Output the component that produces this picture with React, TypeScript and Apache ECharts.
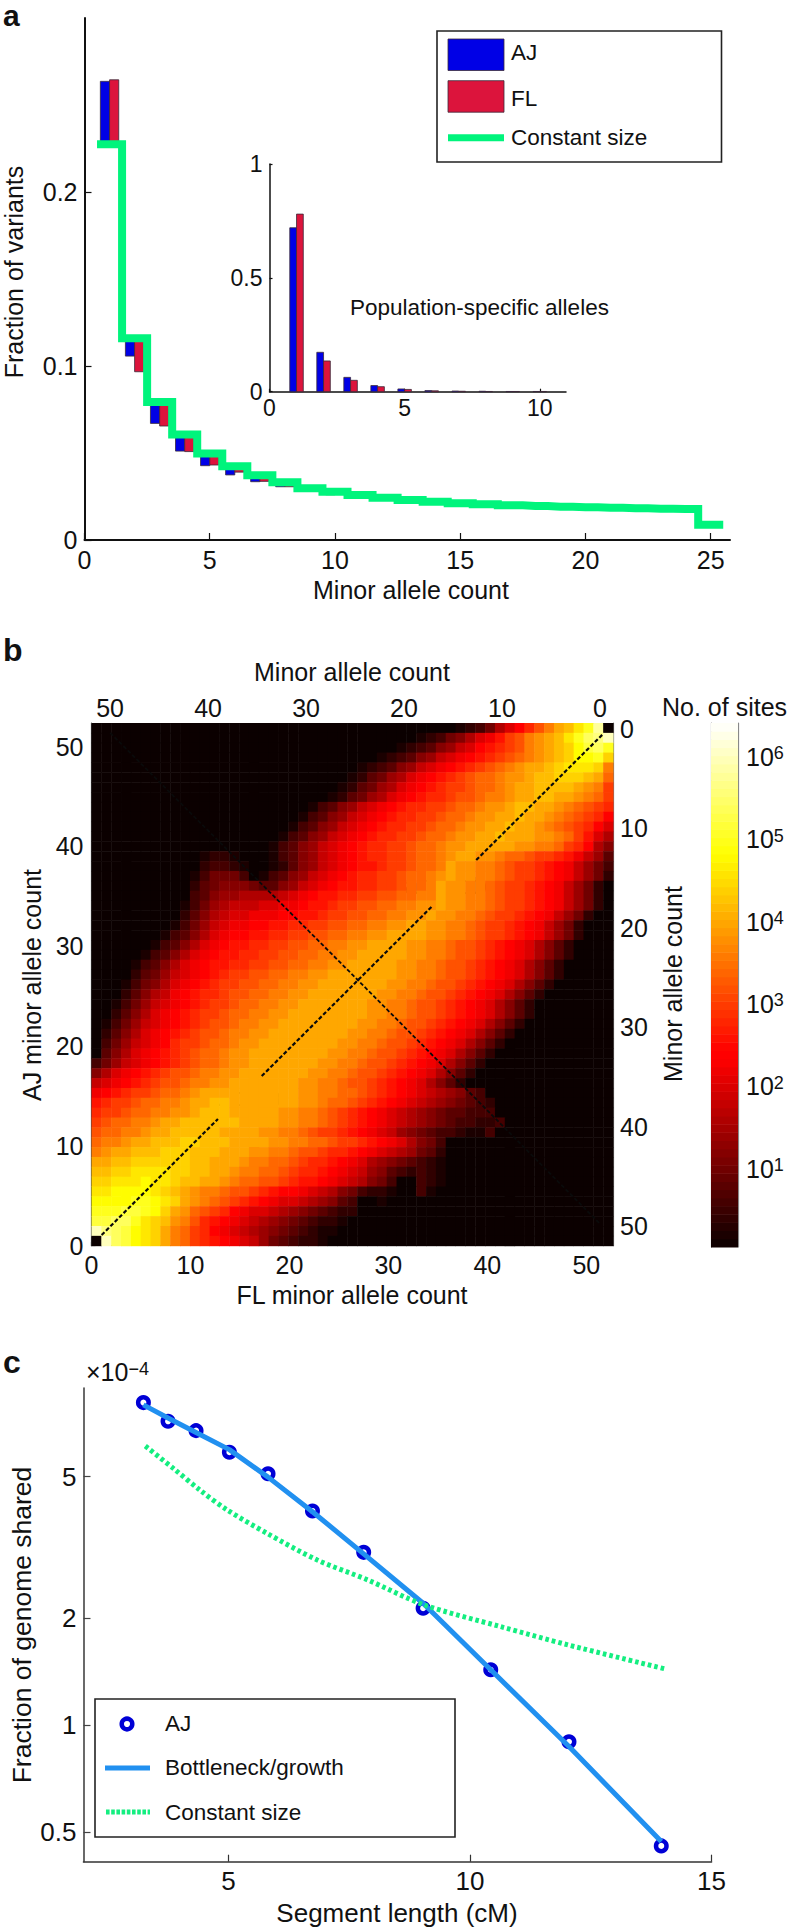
import React, { useEffect, useRef } from "react";
import * as echarts from "echarts";

const FONT = '"Liberation Sans", Arial, sans-serif';

// Panel a
const alleleCounts = [1, 2, 3, 4, 5, 6, 7, 8, 9, 10, 11, 12, 13, 14, 15, 16, 17, 18, 19, 20, 21, 22, 23, 24, 25];
const constantSize = [0.2275, 0.116, 0.0793, 0.0607, 0.0497, 0.0424, 0.0372, 0.0332, 0.0298, 0.0278, 0.0259, 0.0243, 0.023, 0.022, 0.0211, 0.0205, 0.0199, 0.0195, 0.0191, 0.0188, 0.0185, 0.0182, 0.018, 0.0178, 0.0088];
const ajFraction = [0.2636, 0.1057, 0.067, 0.0511, 0.0427, 0.0374, 0.0335, 0.0306, 0.028, 0.026, 0.0245, 0.023, 0.0218, 0.021, 0.0203, 0.0197, 0.0192, 0.0188, 0.0184, 0.0181, 0.0179, 0.0194, 0.0175, 0.0172, 0.0085];
const flFraction = [0.2645, 0.0967, 0.0655, 0.0508, 0.0431, 0.039, 0.0337, 0.0306, 0.0282, 0.0262, 0.0246, 0.0231, 0.0219, 0.0211, 0.0204, 0.0198, 0.0193, 0.0189, 0.0185, 0.0182, 0.018, 0.0192, 0.0176, 0.0173, 0.0086];

// Panel a inset
const insetCounts = [1, 2, 3, 4, 5, 6, 7, 8, 9, 10];
const insetAJ = [0.72, 0.173, 0.063, 0.027, 0.012, 0.005, 0.003, 0.002, 0.001, 0.001];
const insetFL = [0.78, 0.135, 0.05, 0.022, 0.01, 0.004, 0.002, 0.001, 0.001, 0.001];

// Panel b: one entry per row of the matrix, AJ count 52 (top) to 0 (bottom):
// first non-black FL column, then one base-32 digit per cell (digit x 0.2 = log10 of the number of sites).
const heatRows: [number, string][] = [
  [37, "12358acegiklnpt0"],
  [33, "123568abdfgijklnprsu"],
  [31, "1234679acdefgijklmoqrp"],
  [29, "1234679abcdefghijklmoopm"],
  [27, "1234679abcdefghijkklmnnnmi"],
  [26, "124578abcdefghhijjkllmmmlkh"],
  [25, "124578abcdeffghhijkkllllkjif"],
  [24, "124578abcdeefgghiijkkllkkjihf"],
  [22, "134679abcdeeffghhijjkllkkjihgfe"],
  [21, "134679abcdeeffghhijjkklkkjihgfec"],
  [20, "134679abcdeeffghhijjkklkkjihgfeca"],
  [19, "134679abcdeeffghhijjkklkkkjjihfda8"],
  [18, "134679abcdeeffghhijjkkkkkjjiihfec86"],
  [11, "1221000134679abcdeeffghhijkkjjihhgffedb974"],
  [11, "2332100124679abcddeffghhikjjiihgffedcb9753"],
  [10, "1355530134679abcdeeffghhijkjjiihgffedcb9752"],
  [10, "245666544679abcddeeffghhikjjiihgffedcb97520"],
  [10, "3467788889abcddeeffgghhiikjjiihgffedcb9752"],
  [9, "13578999aabbcddeffgghhiijjkjjiihgffedcb9752"],
  [9, "24689aabbbccddeffgghhiijjkjjiihgffedcb9752"],
  [8, "13579abbccddeeffgghhiijjkkjjiihgffedcb9752"],
  [7, "13468abccddeeffgghhiijjkkkkjjiihgffedcb9752"],
  [6, "13468abcddeeffgghhiijjkkkkjjiihggfedcba8642"],
  [5, "13468abcddeeffgghhiijjkkkkkjjiihggfedcba8642"],
  [4, "13468abcddeeffgghhiijjkkkkkjjiihggfedcba8642"],
  [4, "24579abcdeffgghhiijjkkkkkkkjjiihggfedcba8642"],
  [3, "13568abcdeffgghhiijjkkkkkkkjjiihggfedcba8642"],
  [3, "24689bcdeefgghhiijjkkkkkkkjjiihggfedcba8642"],
  [2, "13579abcdeffghhiijjkkkkkkkjjiihggfedcba8642"],
  [2, "2468abcdeffghhiijjkkkkkkkkjjiihggfedcba8642"],
  [1, "13579abcdefgghiijjkkkkkkkkjjiihggfedcba8642"],
  [1, "2468abcdefgghiijjkkkkkkkkjjiihggfedcba8642"],
  [1, "3579abceffghhijjkkkkkkkkjjiihggfedcba8642"],
  [1, "468abcdefghhijjkkkkkkkkjjiihggfedcba8642"],
  [0, "3579abcdefghhijjkkkkkkkjjiihggfedcba8642"],
  [0, "68abcdefgghiijjkkkkkkkjjiihggfedcba8642"],
  [0, "9abcdefgghiijjkkkkkkkjjiihggfedcba8642"],
  [0, "bcdeffghhijkkkkkkkkkkjjiihhgfedcba987643"],
  [0, "deffghhiijkkllkkkkkkkjjihhgfedcba98765432"],
  [0, "effghhiijjklllkkkkkjjiihgfedcba9876544333"],
  [0, "fghhiijkkllllllkkkkjjiihgfedcba98765433223"],
  [0, "ghhiijkkll" + "lllkkkkjji" + "ihgffedcba" + "9765433211" + "3"],
  [0, "hiijkklllm" + "mlllkkkkjj" + "iihhgffedc" + "ba8653"],
  [0, "ijkklllmmm" + "lllkkkjjii" + "hggfeedcba" + "987542"],
  [0, "kkllmmmmmm" + "llkkkjiihh" + "gfeedcba87" + "654321"],
  [0, "llmmnnnnmm" + "llkkjiihhg" + "feedcba976" + "432321"],
  [0, "mmnnnonnml" + "lkkjihhggf" + "eddcba9865" + "300321"],
  [0, "nnoooonmlk" + "jiihggfedc" + "cba9865322" + "10031"],
  [0, "ooooppon" + "mk" + "jihgfedcba" + "a987643001"],
  [0, "pppqqpomkj" + "hgfecbaa98" + "7654322"],
  [0, "qqrrpnmlji" + "gedcba9876" + "543221"],
  [0, "usrqonmkih" + "fecba98765" + "43211"],
  [0, "0urqonmkih" + "fedcba9754" + "3221"],
];
const diagonalSegments = [
  [[1.03, 1.08], [12.85, 12.85]],
  [[17.3, 17.2], [34.7, 34.5]],
  [[39.1, 39.1], [51.9, 51.8]],
];
const antiDiagonal = [[1.9, 52], [26.9, 27.1], [51.6, 2.3]];
const heatTickValues = [0, 10, 20, 30, 40, 50];
const colorbarDecades = [1, 2, 3, 4, 5, 6];

// Panel c
const segmentLength = [3.24, 3.75, 4.33, 5.02, 5.82, 6.74, 7.8, 9.03, 10.43, 12.05, 13.96];
const ajShared = [8.07, 7.15, 6.73, 5.85, 5.09, 4.0, 3.06, 2.13, 1.43, 0.897, 0.457];
const bottleneckFit = [7.95, 7.3, 6.65, 5.95, 4.98, 3.98, 3.03, 2.2, 1.43, 0.87, 0.47];
const constantLength = [3.28, 3.86, 4.41, 4.97, 5.8, 6.84, 7.88, 9.04, 10.64, 12.03, 14.02];
const constantShared = [6.09, 5.27, 4.58, 4.03, 3.46, 2.91, 2.56, 2.18, 1.89, 1.68, 1.44];
const sharedTicks = [0.5, 1, 2, 5];

const BLUE = "#0000e6";
const RED = "#dc143c";
const GREEN = "#00f47c";
const BAR_EDGE = "#3a2a3a";

function hotColor(t: number) {
  const c = Math.max(0, Math.min(1, t));
  const r = Math.min(1, 0.0417 + c / 0.375);
  const g = Math.max(0, Math.min(1, (c - 0.375) / 0.375));
  const b = Math.max(0, Math.min(1, (c - 0.75) / 0.25));
  return `rgb(${Math.round(r * 255)},${Math.round(g * 255)},${Math.round(b * 255)})`;
}
const LOG_MIN = 0.05;
const LOG_MAX = 6.41;

function heatCells() {
  const cells: number[][] = [];
  heatRows.forEach(([start, digits], rowIndex) => {
    const aj = 52 - rowIndex;
    for (let fl = 0; fl < 53; fl++) {
      const k = fl - start;
      const d = k >= 0 && k < digits.length ? parseInt(digits[k], 32) : 0;
      cells.push([fl, aj, d]);
    }
  });
  return cells;
}

function barSeries(name: string, xi: number, yi: number, data: number[][], widthRatio: number, side: number, color: string) {
  return {
    name,
    type: "custom",
    xAxisIndex: xi,
    yAxisIndex: yi,
    silent: true,
    z: 2,
    data,
    renderItem: (_p: any, api: any) => {
      const w = api.size([1, 0])[0] * widthRatio;
      const a = api.coord([api.value(0), api.value(1)]);
      const b = api.coord([api.value(0), api.value(2)]);
      return {
        type: "rect",
        shape: {
          x: side < 0 ? a[0] - w : a[0],
          y: Math.min(a[1], b[1]),
          width: w,
          height: Math.abs(a[1] - b[1]),
        },
        style: { fill: color, stroke: BAR_EDGE, lineWidth: 0.8 },
      };
    },
  };
}

function text(t: string, x: number, y: number, size: number, extra: any = {}) {
  const { rotation, bold, align, rich } = extra;
  return {
    type: "text",
    x,
    y,
    rotation: rotation || 0,
    silent: true,
    style: {
      text: t,
      fontSize: size,
      fontFamily: FONT,
      fontWeight: bold ? "bold" : "normal",
      fill: "#111",
      align: align || "left",
      verticalAlign: "middle",
      rich,
    },
  };
}

function axisBase(custom: any, fontSize: number, margin: number, color = "#111", width = 2, tickLen = 7) {
  return {
    min: custom.min,
    max: custom.max,
    type: "value",
    inverse: !!custom.inverse,
    position: custom.position,
    gridIndex: custom.gridIndex,
    splitLine: { show: false },
    axisLine: { show: true, onZero: false, lineStyle: { color, width } },
    axisTick: { show: true, inside: true, length: tickLen, customValues: custom.values, lineStyle: { color, width: 1.2 } },
    axisLabel: {
      show: custom.labels !== false,
      customValues: custom.values,
      margin,
      fontSize,
      fontFamily: FONT,
      color: "#111",
      formatter: custom.formatter || ((v: number) => String(v)),
      hideOverlap: false,
      rich: custom.rich,
    },
  };
}

const ticksA = [0, 5, 10, 15, 20, 25];

function buildOption() {
  const stepX = [0.5, ...alleleCounts, 25.5];
  const stepY = [constantSize[0], ...constantSize, constantSize[constantSize.length - 1]];
  const grids = [
    { left: 84.5, top: 18, width: 645.5, height: 522 },
    { left: 269.5, top: 164, width: 296.5, height: 227.7 },
    { left: 91.5, top: 723, width: 521.5, height: 522.7 },
    { left: 711, top: 723, width: 27, height: 524 },
    { left: 83.5, top: 1388, width: 628, height: 473.7 },
  ];
  const xAxis = [
    axisBase({ gridIndex: 0, min: 0, max: 25.77, position: "bottom", values: ticksA }, 25, 7),
    axisBase({ gridIndex: 1, min: 0, max: 10.97, position: "bottom", values: [0, 5, 10] }, 23, 5, "#111", 1.5, 3),
    { gridIndex: 2, type: "value", min: 0, max: 53, show: false },
    axisBase({ gridIndex: 2, min: 0, max: 52.7, position: "bottom", values: heatTickValues }, 25, 7, "#444", 1.2, 4),
    axisBase({ gridIndex: 2, min: -1.33, max: 51.9, inverse: true, position: "top", values: heatTickValues }, 25, 3, "#777", 1.2, 4),
    { gridIndex: 3, type: "value", min: 0, max: 1, show: false },
    axisBase({ gridIndex: 4, min: 2, max: 15, position: "bottom", values: [5, 10, 15] }, 26, 6, "#333", 1.6, 7),
  ];
  const yAxis = [
    axisBase({ gridIndex: 0, min: 0, max: 0.3, position: "left", values: [0, 0.1, 0.2] }, 25, 7),
    axisBase({ gridIndex: 1, min: 0, max: 1, position: "left", values: [0, 0.5, 1] }, 23, 7, "#111", 1.5, 3),
    { gridIndex: 2, type: "value", min: 0, max: 53, show: false },
    axisBase({ gridIndex: 2, min: 0, max: 52.37, position: "left", values: heatTickValues }, 25, 8, "#444", 1.2, 4),
    axisBase({ gridIndex: 2, min: -0.6, max: 51.97, inverse: true, position: "right", values: heatTickValues }, 25, 7, "#777", 1.2, 4),
    axisBase({ gridIndex: 3, min: LOG_MIN, max: LOG_MAX, position: "left", values: colorbarDecades, labels: false }, 25, 8, "#888", 1.2, 6),
    axisBase({
      gridIndex: 3, min: LOG_MIN, max: LOG_MAX, position: "right", values: colorbarDecades,
      formatter: (v: number) => `10{sup|${v}}`,
      rich: { sup: { fontSize: 18, fontFamily: FONT, color: "#111", verticalAlign: "top", padding: [0, 0, 6, 0] } },
    }, 25, 8, "#888", 1.2, 6),
    axisBase({
      gridIndex: 4, min: Math.log10(0.4125), max: Math.log10(8.87), position: "left",
      values: sharedTicks.map((v) => Math.log10(v)),
      formatter: (v: number) => String(Math.round(Math.pow(10, v) * 10) / 10),
    }, 26, 7, "#444", 1.6, 7),
  ];
  const colorbarData = Array.from({ length: 64 }, (_, k) => [k]);
  const dashed = (data: number[][], width: number) => ({
    type: "line",
    xAxisIndex: 2,
    yAxisIndex: 2,
    data,
    symbol: "none",
    silent: true,
    z: 4,
    lineStyle: { color: "#0a0a0a", width, type: [4, 2.2] },
  });
  const series: any[] = [
    barSeries("AJ", 0, 0, alleleCounts.map((x, i) => [x, constantSize[i], ajFraction[i]]), 0.367, -1, BLUE),
    barSeries("FL", 0, 0, alleleCounts.map((x, i) => [x, constantSize[i], flFraction[i]]), 0.367, 1, RED),
    {
      name: "Constant size",
      type: "line",
      xAxisIndex: 0,
      yAxisIndex: 0,
      step: "middle",
      data: stepX.map((x, i) => [x, stepY[i]]),
      symbol: "none",
      silent: true,
      z: 3,
      lineStyle: { color: GREEN, width: 8, cap: "butt", join: "miter" },
    },
    barSeries("AJ inset", 1, 1, insetCounts.map((x, i) => [x, 0, insetAJ[i]]), 0.25, -1, BLUE),
    barSeries("FL inset", 1, 1, insetCounts.map((x, i) => [x, 0, insetFL[i]]), 0.25, 1, RED),
    {
      name: "No. of sites",
      type: "custom",
      xAxisIndex: 2,
      yAxisIndex: 2,
      silent: true,
      z: 1,
      data: heatCells(),
      renderItem: (_p: any, api: any) => {
        const i = api.value(0);
        const j = api.value(1);
        const a = api.coord([i, j + 1]);
        const b = api.coord([i + 1, j]);
        return {
          type: "rect",
          shape: { x: a[0], y: a[1], width: b[0] - a[0] + 0.5, height: b[1] - a[1] + 0.5 },
          style: { fill: hotColor((api.value(2) * 0.2 - LOG_MIN) / (LOG_MAX - LOG_MIN)), stroke: "none" },
        };
      },
    },
    ...diagonalSegments.map((s) => dashed(s, 2.2)),
    dashed(antiDiagonal, 1.8),
    {
      name: "Colour bar",
      type: "custom",
      xAxisIndex: 5,
      yAxisIndex: 5,
      silent: true,
      z: 1,
      data: colorbarData,
      renderItem: (_p: any, api: any) => {
        const k = api.value(0);
        const step = (LOG_MAX - LOG_MIN) / 64;
        const a = api.coord([0, LOG_MIN + (k + 1) * step]);
        const b = api.coord([1, LOG_MIN + k * step]);
        return {
          type: "rect",
          shape: { x: a[0], y: a[1], width: b[0] - a[0], height: b[1] - a[1] + 0.5 },
          style: { fill: hotColor((k + 0.5) / 64), stroke: "none" },
        };
      },
    },
    {
      name: "AJ",
      type: "scatter",
      xAxisIndex: 6,
      yAxisIndex: 7,
      silent: true,
      z: 2,
      symbol: "circle",
      symbolSize: 10.5,
      data: segmentLength.map((x, i) => [x, Math.log10(ajShared[i])]),
      itemStyle: { color: "rgba(255,255,255,0)", borderColor: "#0000d6", borderWidth: 4.5, opacity: 1 },
    },
    {
      name: "Bottleneck/growth",
      type: "line",
      xAxisIndex: 6,
      yAxisIndex: 7,
      silent: true,
      z: 3,
      symbol: "none",
      data: segmentLength.map((x, i) => [x, Math.log10(bottleneckFit[i])]),
      lineStyle: { color: "#2190f0", width: 5 },
    },
    {
      name: "Constant size",
      type: "line",
      xAxisIndex: 6,
      yAxisIndex: 7,
      silent: true,
      z: 4,
      symbol: "none",
      smooth: 0.3,
      data: constantLength.map((x, i) => [x, Math.log10(constantShared[i])]),
      lineStyle: { color: "#14ee80", width: 5, type: [3.6, 3] },
    },
  ];
  const graphic = [
    text("a", 3, 15, 30, { bold: true }),
    text("b", 3, 650, 32, { bold: true }),
    text("c", 3, 1362, 32, { bold: true }),
    text("Fraction of variants", 14, 272, 25, { rotation: Math.PI / 2, align: "center" }),
    text("Minor allele count", 411, 590, 25, { align: "center" }),
    { type: "rect", silent: true, shape: { x: 437, y: 31, width: 284.5, height: 131 }, style: { fill: "#fff", stroke: "#222", lineWidth: 1.6 } },
    { type: "rect", silent: true, shape: { x: 448, y: 39, width: 56, height: 31.5 }, style: { fill: BLUE, stroke: BAR_EDGE, lineWidth: 0.8 } },
    { type: "rect", silent: true, shape: { x: 448, y: 80.7, width: 56, height: 31.5 }, style: { fill: RED, stroke: BAR_EDGE, lineWidth: 0.8 } },
    { type: "line", silent: true, shape: { x1: 448, y1: 137.7, x2: 504, y2: 137.7 }, style: { stroke: GREEN, lineWidth: 7 } },
    text("AJ", 511, 52, 22.5),
    text("FL", 511, 98, 22.5),
    text("Constant size", 511, 137, 22.5),
    text("Population-specific alleles", 350, 307, 22.5),
    text("Minor allele count", 352, 672, 25, { align: "center" }),
    text("No. of sites", 662, 707, 25),
    text("AJ minor allele count", 32, 985, 25, { rotation: Math.PI / 2, align: "center" }),
    text("FL minor allele count", 352, 1295, 25, { align: "center" }),
    text("Minor allele count", 673, 984, 25, { rotation: Math.PI / 2, align: "center" }),
    text("Panmictic", 442, 885, 25, { align: "center" }),
    text("Real data", 228.5, 1097, 25, { align: "center" }),
    {
      type: "text",
      x: 86,
      y: 1372,
      silent: true,
      style: {
        text: "×10{s|−4}",
        fontSize: 25,
        fontFamily: FONT,
        fill: "#111",
        align: "left",
        verticalAlign: "middle",
        rich: { s: { fontSize: 18, fontFamily: FONT, fill: "#111", verticalAlign: "top", padding: [0, 0, 6, 0] } },
      },
    },
    text("Fraction of genome shared", 22, 1625, 26.5, { rotation: Math.PI / 2, align: "center" }),
    text("Segment length (cM)", 397, 1913, 26, { align: "center" }),
    { type: "rect", silent: true, shape: { x: 95, y: 1699, width: 360, height: 138 }, style: { fill: "#fff", stroke: "#222", lineWidth: 1.6 } },
    { type: "circle", silent: true, shape: { cx: 127, cy: 1724, r: 5.3 }, style: { fill: "none", stroke: "#0000d6", lineWidth: 4.5 } },
    { type: "line", silent: true, shape: { x1: 105, y1: 1768, x2: 150, y2: 1768 }, style: { stroke: "#2190f0", lineWidth: 5 } },
    { type: "line", silent: true, shape: { x1: 106, y1: 1812, x2: 150, y2: 1812 }, style: { stroke: "#14ee80", lineWidth: 5, lineDash: [3.6, 1.6] } },
    text("AJ", 165, 1723, 22.5),
    text("Bottleneck/growth", 165, 1767, 22.5),
    text("Constant size", 165, 1812, 22.5),
  ];
  return { animation: false, backgroundColor: "#fff", grid: grids, xAxis, yAxis, series, graphic };
}

export default function App() {
  const ref = useRef<HTMLDivElement>(null);
  useEffect(() => {
    document.body.style.margin = "0";
    const chart = echarts.init(ref.current!, undefined, { renderer: "svg" });
    chart.setOption(buildOption() as any);
    return () => chart.dispose();
  }, []);
  return <div ref={ref} style={{ width: 788, height: 1928 }} />;
}
